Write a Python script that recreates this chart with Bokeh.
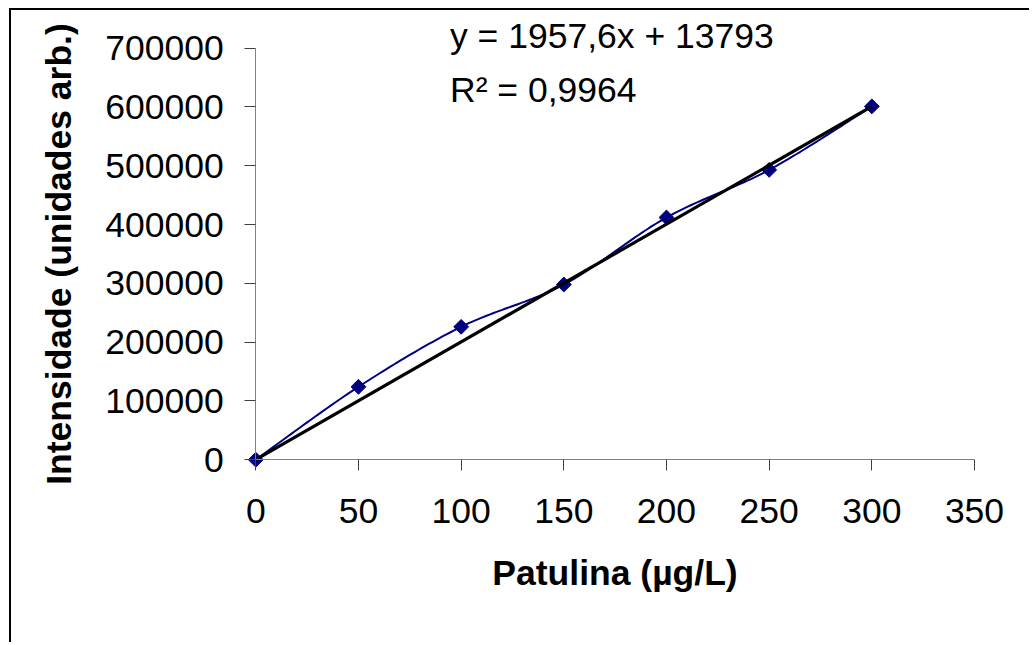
import numpy as np
from bokeh.plotting import figure
from bokeh.models import Range1d, FixedTicker
from bokeh.core.properties import value
from bokeh.embed import file_html
from bokeh.resources import INLINE

# ---------------- data ----------------
conc = [0, 50, 100, 150, 200, 250, 300]                          # Patulina (µg/L)
intensity = [0, 124000, 226000, 298000, 412000, 493000, 601000]  # Intensidade
trend_x = [0, 300]
trend_y = [0, 601000]
x_ticks = [0, 50, 100, 150, 200, 250, 300, 350]
x_tick_labels = ["0", "50", "100", "150", "200", "250", "300", "350"]
y_ticks = [0, 100000, 200000, 300000, 400000, 500000, 600000, 700000]
y_tick_labels = ["0", "100000", "200000", "300000", "400000", "500000", "600000", "700000"]
equation = "y = 1957,6x + 13793"
r2_text = "R² = 0,9964"
x_label = "Patulina (µg/L)"
y_label = "Intensidade (unidades arb.)"

# ---------------- layout (page pixels) ----------------
W, H = 1020, 634
CANVAS_X0, CANVAS_Y0 = 11, 10          # canvas origin on the page
ORIGIN_PX, ORIGIN_PY = 255.3, 459.2    # axis origin on the page
PX_PER_X = (974.0 - 255.3) / 350.0
PX_PER_Y = (459.2 - 47.7) / 700000.0

def px2x(px):
    return (px - ORIGIN_PX) / PX_PER_X

def py2y(py):
    return (ORIGIN_PY - py) / PX_PER_Y

x_range = Range1d(px2x(CANVAS_X0), px2x(CANVAS_X0 + W))
y_range = Range1d(py2y(CANVAS_Y0 + H), py2y(CANVAS_Y0))

FONT = "Liberation Sans"
FS = "35.5px"

p = figure(width=W, height=H, x_range=x_range, y_range=y_range,
           output_backend="svg", toolbar_location=None, min_border=0,
           background_fill_color="white", border_fill_color="white")
p.outline_line_color = None
p.xgrid.visible = False
p.ygrid.visible = False
p.styles = {"margin-left": "9px", "margin-top": "8px",
            "border-left": "2px solid black", "border-top": "2px solid black"}

for ax, ticks, labels in ((p.xaxis[0], x_ticks, x_tick_labels),
                          (p.yaxis[0], y_ticks, y_tick_labels)):
    ax.fixed_location = 0
    ax.bounds = (ticks[0], ticks[-1])
    ax.ticker = FixedTicker(ticks=ticks)
    ax.major_label_overrides = {t: l for t, l in zip(ticks, labels)}
    ax.axis_line_color = "#808080"
    ax.axis_line_width = 1
    ax.major_tick_line_color = "#404040"
    ax.major_tick_in = 0
    ax.major_tick_out = 11
    ax.minor_tick_out = 0
    ax.minor_tick_in = 0
    ax.major_label_text_font = FONT
    ax.major_label_text_font_size = FS
    ax.major_label_text_color = "black"
    ax.axis_label_text_font = FONT
    ax.axis_label_text_font_size = FS
    ax.axis_label_text_font_style = "bold"
    ax.axis_label_text_color = "black"

p.xaxis[0].major_label_standoff = 28
p.xaxis[0].axis_label_standoff = 27
p.yaxis[0].major_label_standoff = 21
p.yaxis[0].axis_label_standoff = 23
p.xaxis[0].axis_label = x_label
p.yaxis[0].axis_label = y_label


# smoothed series line (Excel-like Catmull-Rom Bezier)
def smooth(xs, ys, n=30):
    pts = np.column_stack([xs, ys]).astype(float)
    m = len(pts)
    out = []
    for i in range(m - 1):
        p0 = pts[i - 1] if i > 0 else pts[i]
        p1 = pts[i]
        p2 = pts[i + 1]
        p3 = pts[i + 2] if i + 2 < m else pts[i + 1]
        c1 = p1 + (p2 - p0) / 6.0
        c2 = p2 - (p3 - p1) / 6.0
        t = np.linspace(0, 1, n)[:, None]
        seg = ((1 - t) ** 3) * p1 + 3 * ((1 - t) ** 2) * t * c1 + 3 * (1 - t) * t ** 2 * c2 + t ** 3 * p2
        out.append(seg if i == 0 else seg[1:])
    arr = np.vstack(out)
    return arr[:, 0], arr[:, 1]

sx, sy = smooth(conc, intensity)
p.line(sx, sy, line_color="#000080", line_width=2)
p.scatter(conc, intensity, marker="square", size=10.5, angle=np.pi / 4,
          fill_color="#000080", line_color="#000080")
p.line(trend_x, trend_y, line_color="black", line_width=3.2)

p.text(x=[px2x(449.5), px2x(449.5)], y=[py2y(35.5), py2y(89.5)],
       text=[equation, r2_text], text_font=value(FONT), text_font_size=FS,
       text_color="black", text_baseline="alphabetic", text_align="left")

open("out.html", "w").write(file_html(p, INLINE))
